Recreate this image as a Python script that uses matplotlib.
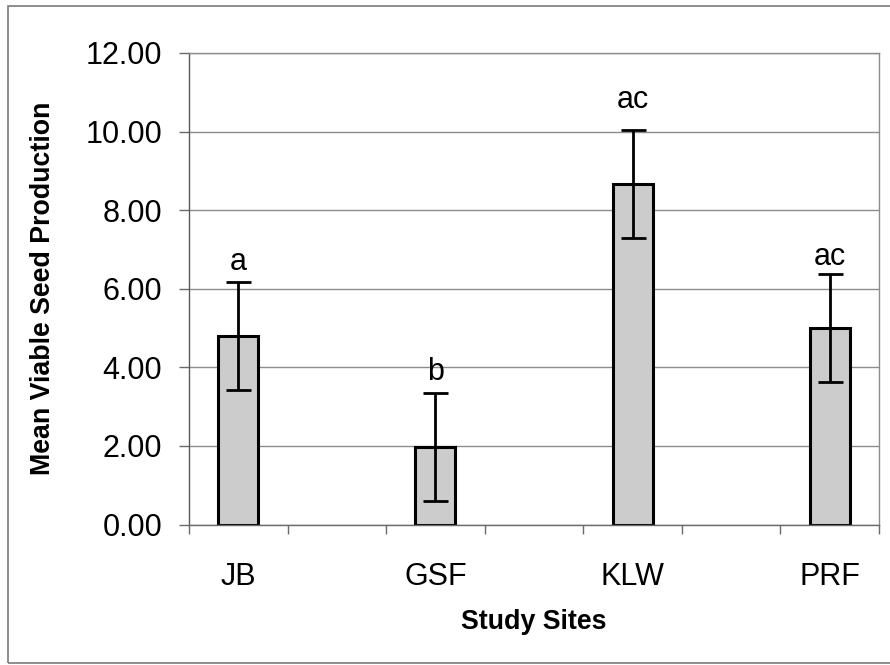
import matplotlib
matplotlib.use("Agg")
import matplotlib.pyplot as plt
from matplotlib.patches import Rectangle

plt.rcParams['font.family'] = ['Liberation Sans', 'DejaVu Sans']

# Study sites with blank spacer slots between them
categories = ["JB", "", "GSF", "", "KLW", "", "PRF"]
sites = ["JB", "GSF", "KLW", "PRF"]
mean_seeds = [4.79, 1.97, 8.66, 5.00]
std_err = [1.37, 1.38, 1.37, 1.37]
sig_letters = ["a", "b", "ac", "ac"]
letter_gap_px = [12, 13, 22, 9]
y_ticks = [0, 2, 4, 6, 8, 10, 12]

fig = plt.figure(figsize=(8.9, 6.65), dpi=100)
fig.patch.set_facecolor("white")

# outer chart frame
fig.add_artist(Rectangle((8 / 890, 2 / 665), 1.2, 1 - 8 / 665,
                         transform=fig.transFigure, fill=False,
                         edgecolor="#7a7a7a", linewidth=1.2))

ax = fig.add_axes([189 / 890, 1 - 524.5 / 665, 690 / 890, 471.5 / 665])

x_pos = [categories.index(s) for s in sites]

ax.set_axisbelow(True)
ax.yaxis.grid(True, color="#8c8c8c", linewidth=1.0)
ax.bar(x_pos, mean_seeds, width=0.405, color="#cccccc",
       edgecolor="black", linewidth=2.2, zorder=2)
ax.errorbar(x_pos, mean_seeds, yerr=std_err, fmt="none", ecolor="black",
            elinewidth=2.0, capsize=9, capthick=2.0, zorder=3)

for x, m, e, lab, gap in zip(x_pos, mean_seeds, std_err, sig_letters, letter_gap_px):
    ax.annotate(lab, xy=(x, m + e), xytext=(0, gap), textcoords="offset pixels",
                ha="center", va="baseline", fontsize=22, color="black")

ax.set_xlim(-0.5, len(categories) - 0.5)
ax.set_ylim(0, 12)

ax.set_yticks(y_ticks)
ax.set_yticklabels([f"{v:.2f}" for v in y_ticks], fontsize=22)
ax.tick_params(axis="y", direction="out", length=7.2, width=1.0,
               color="#6a6a6a", pad=12)

# boundary ticks between categories, labels at category centres
ax.set_xticks([i - 0.5 for i in range(len(categories) + 1)])
ax.set_xticklabels([])
ax.set_xticks(x_pos, minor=True)
ax.set_xticklabels(sites, minor=True, fontsize=22)
ax.tick_params(axis="x", which="major", direction="out", length=6.5,
               width=1.0, color="#6a6a6a")
ax.tick_params(axis="x", which="minor", length=0, pad=27)

for side in ["top", "right"]:
    ax.spines[side].set_color("#8c8c8c")
    ax.spines[side].set_linewidth(1.0)
ax.spines["left"].set_color("#5a5a5a")
ax.spines["bottom"].set_color("#6a6a6a")
ax.spines["left"].set_linewidth(1.0)
ax.spines["bottom"].set_linewidth(1.0)

ax.set_xlabel("Study Sites", fontsize=19.3, fontweight="bold")
ax.xaxis.label.set_va("center")
ax.xaxis.set_label_coords(0.5, -0.207)
ax.set_ylabel("Mean Viable Seed Production", fontsize=19.3, fontweight="bold")
ax.yaxis.label.set_va("center")
ax.yaxis.set_label_coords(-0.2123, 0.5)

fig.savefig("out.png", dpi=100, facecolor="white")
